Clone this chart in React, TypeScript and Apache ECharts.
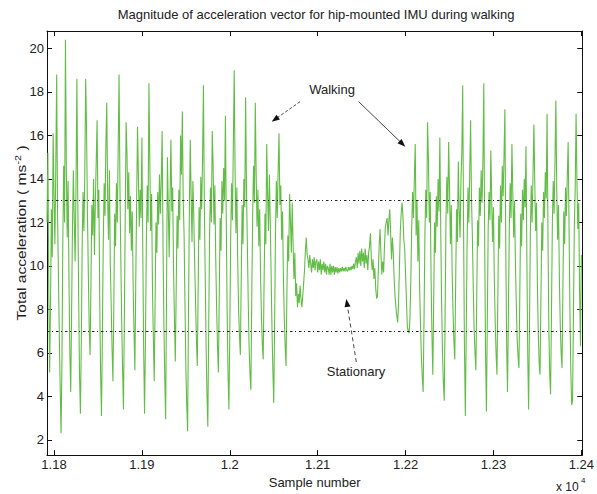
import React, { useEffect, useRef } from "react";
import * as echarts from "echarts";

const chartTitle = "Magnitude of acceleration vector for hip-mounted IMU during walking";
const xAxisTitle = "Sample number";
const yAxisTitleMain = "Total acceleration ( ms";
const yAxisTitleSup = "-2";
const xTickValues = [11800, 11900, 12000, 12100, 12200, 12300, 12400];
const yTickValues = [2, 4, 6, 8, 10, 12, 14, 16, 18, 20];
const thresholdLevels = [7, 13];
const annotationWalking = "Walking";
const annotationStationary = "Stationary";

// Segments of the acceleration magnitude signal (ms^-2), one value per sample
const walkingBeforeStart = 11792;
const walkingBefore = [
  12.0, 15.2, 9.0, 5.1, 8.2, 12.6, 10.4, 16.1, 13.2, 11.0,
  14.5, 18.8, 12.4, 9.6, 6.8, 4.4, 2.3, 5.6, 11.2, 14.6,
  12.0, 20.4, 14.6, 11.3, 13.9, 9.4, 6.0, 4.2, 7.9, 11.8,
  14.4, 12.1, 10.2, 13.6, 18.6, 13.0, 8.7, 5.0, 3.2, 6.4,
  10.8, 13.4, 11.6, 14.2, 18.6, 16.2, 12.5, 9.7, 7.2, 5.9,
  9.1, 12.8, 11.4, 14.0, 10.5, 12.9, 14.8, 16.7, 12.2, 13.5,
  8.4, 5.0, 3.1, 6.8, 11.0, 13.8, 12.3, 15.6, 17.5, 13.1,
  11.2, 14.4, 10.1, 8.3, 6.2, 4.7, 8.0, 12.4, 10.9, 13.8,
  12.0, 15.4, 18.8, 13.6, 10.3, 7.4, 5.2, 3.4, 7.6, 12.1,
  16.6, 15.2, 12.6, 14.3, 11.5, 13.2, 10.7, 12.5, 9.1, 7.0,
  5.2, 9.3, 13.0, 16.4, 14.1, 11.8, 13.5, 12.2, 15.9, 10.6,
  6.1, 3.2, 6.5, 10.9, 13.7, 12.0, 18.4, 14.7, 11.6, 13.3,
  9.0, 6.7, 4.7, 8.3, 12.0, 10.6, 13.4, 11.9, 14.2, 12.4,
  13.9, 16.2, 11.1, 7.3, 4.8, 2.95, 8.8, 15.0, 12.7, 10.4,
  13.1, 15.8, 12.5, 13.6, 9.8, 7.6, 5.6, 8.9, 12.3, 10.8,
  13.5, 12.1, 16.0, 14.2, 17.1, 13.0, 11.4, 8.2, 5.3, 3.6,
  2.4, 7.9, 12.6, 15.8, 13.2, 11.1, 13.9, 12.3, 10.2, 8.4,
  6.6, 5.4, 9.0, 12.7, 11.2, 14.1, 12.6, 14.9, 18.3, 12.9,
  9.6, 6.4, 4.1, 2.6, 7.2, 11.5, 13.6, 12.0, 16.2, 14.6,
  11.9, 13.7, 10.3, 8.1, 6.3, 5.1, 8.7, 12.2, 10.7, 13.9,
  12.4, 14.5, 13.0, 16.9, 12.0, 7.8, 5.0, 3.4, 7.0, 11.3,
  13.8, 12.1, 15.5, 19.0, 14.3, 11.5, 13.6, 10.2, 8.0, 6.8,
  5.9, 9.4, 12.8, 11.0, 14.0, 12.7, 17.75, 13.4, 10.9, 8.3,
  6.2, 5.0, 4.3, 8.6, 12.3, 14.6, 12.9, 17.5, 14.2, 11.8,
  13.5, 10.9, 12.6, 9.5, 7.7, 6.4, 5.7, 9.2, 12.4, 11.0,
  15.6, 13.3, 11.6, 14.2, 12.1, 9.6, 7.1, 5.2, 3.7, 7.4,
  11.6, 13.9, 12.2, 14.4, 16.1, 12.8, 13.7, 11.2, 12.5, 9.4,
  7.6, 6.3, 5.4, 8.8, 11.4, 10.2, 13.3, 12.1, 10.6, 12.9,
  11.0,
];

const settlingStart = 12073;
const settling = [9.4, 10.6, 8.6, 9.2, 8.1, 8.7, 8.3, 9.1, 8.5, 8.1, 8.6, 9.2, 9.8, 10.7, 11.3, 10.5];

const stationaryStart = 12089;
const stationary = [
  10.3, 9.9, 10.5, 10.1, 9.7, 10.3, 9.9, 10.4, 9.8, 10.2,
  10.3, 9.7, 10.2, 9.8, 10.3, 9.6, 10.1, 9.8, 10.2, 9.7,
  10.1, 9.6, 10.0, 9.9, 9.6, 10.1, 9.6, 10.0, 9.7, 10.0,
  9.6, 9.95, 9.7, 9.95, 9.65, 9.9, 9.7, 9.9, 9.75, 9.95,
  9.75, 9.9, 9.75, 9.95, 9.8, 9.75, 9.95, 9.8, 9.95, 9.8,
  10.0, 9.85, 10.1, 9.85, 10.2, 10.4, 9.9, 10.6, 10.1, 10.7,
  10.0, 10.8, 10.2, 10.6, 9.9, 10.8, 10.1, 10.5, 9.8, 10.6,
];

const resumingStart = 12159;
const resuming = [
  10.9, 11.5, 10.4, 9.8, 10.3, 9.4, 9.9, 9.0, 8.5, 8.6,
  9.8, 11.0, 11.7, 10.5, 9.6, 10.2, 9.7, 10.9, 11.8, 12.0,
  12.2, 11.4, 12.1, 12.6, 11.5, 10.3, 11.3, 10.6, 9.4, 8.6,
  8.1, 7.7, 7.4, 8.3, 9.9, 11.6, 12.4, 12.9, 12.3, 11.2,
  10.8, 9.6, 8.4, 7.2, 7.0, 6.9, 7.6, 9.4, 11.8, 13.4,
  12.2, 14.1, 15.6,
];

const walkingAfterStart = 12212;
const walkingAfter = [
  11.4, 13.0, 10.2, 12.1, 9.0, 7.3, 5.8, 4.9, 4.2, 7.6,
  11.4, 13.5, 12.2, 16.6, 14.9, 12.0, 13.4, 9.5, 6.8, 5.0,
  8.4, 12.0, 10.6, 13.2, 11.8, 14.0, 12.5, 15.9, 11.7, 8.3,
  6.0, 4.6, 3.8, 7.9, 12.2, 14.1, 12.4, 15.7, 13.6, 11.0,
  12.8, 9.7, 7.9, 6.5, 5.7, 9.2, 12.6, 11.1, 14.8, 12.5,
  11.3, 13.9, 15.2, 18.3, 11.6, 6.2, 3.1, 6.9, 11.0, 13.6,
  12.0, 14.3, 16.7, 13.1, 11.4, 9.0, 7.1, 6.0, 5.2, 8.7,
  12.1, 10.9, 13.6, 12.3, 14.4, 12.9, 14.8, 18.4, 11.2, 6.0,
  3.3, 7.5, 11.7, 13.4, 12.1, 15.3, 13.0, 11.1, 12.7, 9.3,
  7.4, 5.9, 5.0, 8.6, 12.3, 10.8, 13.7, 12.0, 14.6, 13.2,
  15.0, 17.2, 10.8, 6.4, 4.2, 7.9, 11.6, 13.8, 12.2, 15.6,
  13.4, 11.3, 13.0, 10.1, 8.2, 6.6, 5.8, 5.3, 8.8, 12.4,
  10.9, 13.5, 12.1, 14.0, 12.7, 15.5, 10.4, 5.9, 3.4, 7.4,
  11.5, 13.7, 12.0, 14.2, 16.5, 13.8, 11.6, 12.9, 9.1, 6.9,
  5.5, 5.0, 8.5, 12.0, 10.7, 13.4, 12.2, 14.3, 13.1, 17.0,
  11.5, 7.2, 5.0, 4.1, 7.8, 11.9, 13.9, 12.4, 14.8, 17.6,
  13.5, 11.2, 12.8, 9.4, 7.3, 6.0, 5.3, 8.9, 12.5, 11.0,
  13.6, 12.3, 14.1, 15.7, 11.8, 7.9, 5.2, 3.6, 3.8, 7.7,
  11.8, 13.5, 17.0, 13.9, 11.7, 12.9, 8.8, 6.3, 10.5,
];

const segments: [number, number[]][] = [
  [walkingBeforeStart, walkingBefore],
  [settlingStart, settling],
  [stationaryStart, stationary],
  [resumingStart, resuming],
  [walkingAfterStart, walkingAfter],
];

const FONT = "'Liberation Sans', Arial, Helvetica, sans-serif";
const TEXT = "#222";

function arrow(x1: number, y1: number, x2: number, y2: number, dash: number[] | null) {
  const a = Math.atan2(y2 - y1, x2 - x1);
  const L = 8, W = 3;
  const c = Math.cos(a), s = Math.sin(a);
  const bx = x2 - L * c, by = y2 - L * s;
  const px = -s * W, py = c * W;
  return [
    {
      type: "line",
      silent: true,
      shape: { x1, y1, x2: bx + L * 0.3 * c, y2: by + L * 0.3 * s },
      style: { stroke: "#333", lineWidth: 0.9, lineDash: dash || undefined },
    },
    {
      type: "polygon",
      silent: true,
      shape: { points: [[x2, y2], [bx + px, by + py], [bx - px, by - py]] },
      style: { fill: "#111" },
    },
  ];
}

export default function App() {
  const ref = useRef<HTMLDivElement>(null);
  useEffect(() => {
    if (!ref.current) return;
    const chart = echarts.init(ref.current, null, { renderer: "svg" });
    const data: number[][] = [];
    segments.forEach(([start, vals]) => vals.forEach((v, i) => data.push([start + i, v])));

    const axisLine = { show: true, onZero: false, lineStyle: { color: "#111", width: 1 } };
    const tick = (values: number[]) => ({
      show: true,
      inside: true,
      length: 5,
      customValues: values,
      lineStyle: { color: "#111" },
    });
    chart.setOption({
      animation: false,
      backgroundColor: "#fff",
      title: {
        text: chartTitle,
        left: 316,
        top: 8,
        padding: 0,
        textAlign: "center",
        textStyle: { fontFamily: FONT, fontSize: 13, fontWeight: "normal", color: TEXT },
      },
      grid: { left: 47, right: 10, top: 31, bottom: 34, containLabel: false },
      xAxis: [
        {
          type: "value",
          min: 11792,
          max: 12401,
          position: "bottom",
          name: xAxisTitle,
          nameLocation: "middle",
          nameGap: 16,
          nameTextStyle: { fontFamily: FONT, fontSize: 13, color: TEXT },
          axisLine,
          axisTick: tick(xTickValues),
          axisLabel: {
            show: true,
            customValues: xTickValues,
            margin: 3,
            fontFamily: FONT,
            fontSize: 13,
            color: TEXT,
            formatter: (v: number) => String(Number((v / 10000).toFixed(2))),
          },
          splitLine: { show: false },
        },
        {
          type: "value",
          min: 11792,
          max: 12401,
          position: "top",
          axisLine,
          axisTick: tick(xTickValues),
          axisLabel: { show: false },
          splitLine: { show: false },
        },
      ],
      yAxis: [
        {
          type: "value",
          min: 1.3,
          max: 20.8,
          position: "left",
          axisLine,
          axisTick: tick(yTickValues),
          axisLabel: { show: true, customValues: yTickValues, margin: 3, fontFamily: FONT, fontSize: 13, color: TEXT },
          splitLine: { show: false },
        },
        {
          type: "value",
          min: 1.3,
          max: 20.8,
          position: "right",
          axisLine,
          axisTick: tick(yTickValues),
          axisLabel: { show: false },
          splitLine: { show: false },
        },
      ],
      series: [
        {
          type: "line",
          xAxisIndex: 0,
          yAxisIndex: 0,
          data,
          showSymbol: false,
          symbol: "none",
          lineStyle: { color: "#62bd46", width: 1.1 },
          itemStyle: { color: "#62bd46" },
          markLine: {
            silent: true,
            symbol: ["none", "none"],
            label: { show: false },
            lineStyle: { color: "#222", width: 1, type: [2.5, 2.5, 1, 3] },
            data: thresholdLevels.map((v) => ({ yAxis: v })),
          },
          z: 2,
        },
      ],
      graphic: [
        {
          type: "text",
          silent: true,
          x: 21,
          y: 233,
          rotation: Math.PI / 2,
          scaleX: 1.2,
          style: {
            text: `{a|${yAxisTitleMain}}{b|${yAxisTitleSup}}{a| )}`,
            align: "center",
            verticalAlign: "middle",
            rich: {
              a: { fontFamily: FONT, fontSize: 13, fill: TEXT, lineHeight: 16 },
              b: { fontFamily: FONT, fontSize: 9, fill: TEXT, verticalAlign: "top", lineHeight: 10 },
            },
          },
        },
        {
          type: "text",
          silent: true,
          x: 332,
          y: 89,
          style: { text: annotationWalking, fontFamily: FONT, fontSize: 13, fill: TEXT, align: "center", verticalAlign: "middle" },
        },
        ...arrow(300, 101.7, 271.7, 121.7, [3, 2]),
        ...arrow(358.7, 101.7, 405.3, 146.7, null),
        {
          type: "text",
          silent: true,
          x: 356,
          y: 371,
          style: { text: annotationStationary, fontFamily: FONT, fontSize: 13, fill: TEXT, align: "center", verticalAlign: "middle" },
        },
        ...arrow(356.3, 362, 346.3, 299, [4, 3]),
        {
          type: "text",
          silent: true,
          x: 556,
          y: 487,
          style: { text: "x 10", fontFamily: FONT, fontSize: 12, fill: TEXT, align: "left", verticalAlign: "middle" },
        },
        {
          type: "text",
          silent: true,
          x: 581,
          y: 480,
          style: { text: "4", fontFamily: FONT, fontSize: 8, fill: TEXT, align: "left", verticalAlign: "middle" },
        },
      ],
    });
    return () => chart.dispose();
  }, []);
  return (
    <div
      ref={ref}
      style={{ position: "fixed", left: 0, top: 0, width: 597, height: 494, background: "#fff" }}
    />
  );
}
